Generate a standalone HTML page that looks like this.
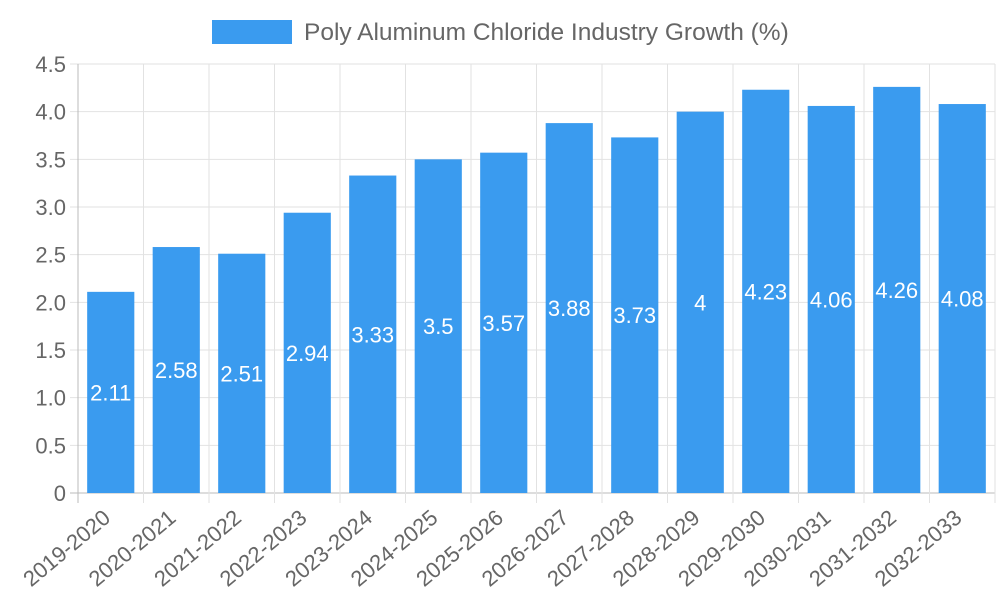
<!DOCTYPE html>
<html><head><meta charset="utf-8"><style>
html,body{margin:0;padding:0;background:#fff;width:1000px;height:600px;overflow:hidden}
text{font-family:"Liberation Sans",Arial,sans-serif}
</style></head><body>
<svg id="chart" width="1000" height="600" viewBox="0 0 1000 600">
<g id="legend">
<rect x="212" y="20" width="80" height="24" fill="#3a9bef"/>
<text x="304" y="40" font-size="24.5" fill="#666">Poly Aluminum Chloride Industry Growth (%)</text>
</g>
<g id="grid"></g><g id="bars"></g><g id="labels"></g>
</svg>
<script>
const categories=["2019-2020","2020-2021","2021-2022","2022-2023","2023-2024","2024-2025","2025-2026","2026-2027","2027-2028","2028-2029","2029-2030","2030-2031","2031-2032","2032-2033"];
const values=[2.11,2.58,2.51,2.94,3.33,3.5,3.57,3.88,3.73,4,4.23,4.06,4.26,4.08];
const yTicks=[0,0.5,1,1.5,2,2.5,3,3.5,4,4.5];
const yTickLabels=["0","0.5","1.0","1.5","2.0","2.5","3.0","3.5","4.0","4.5"];
const NS="http://www.w3.org/2000/svg";
const X0=78,X1=995,Y0=493,Y1=64,YMAX=4.5;
const band=(X1-X0)/categories.length;
function y(v){return Y0-(v/YMAX)*(Y0-Y1);}
function xc(i){return X0+band*(i+0.5);}
function mk(t,a,p){const e=document.createElementNS(NS,t);for(const k in a)e.setAttribute(k,a[k]);p.appendChild(e);return e;}
const grid=document.getElementById('grid'),bars=document.getElementById('bars'),labels=document.getElementById('labels');
yTicks.forEach((v,i)=>{
 const l=mk('line',{x1:X0-8,x2:X1,y1:y(v),y2:y(v),stroke:i===0?'#bbb':'#e2e2e2','stroke-width':1},grid);
 
 
 const t=mk('text',{x:X0-12,y:y(v)+8,'text-anchor':'end','font-size':22,fill:'#666'},grid);
 t.textContent=yTickLabels[i];
 
 
});
for(let i=0;i<=categories.length;i++){
 const gx=X0+band*i;
 const l=mk('line',{x1:gx,x2:gx,y1:Y1,y2:Y0+10,stroke:i===0?'#bbb':'#e2e2e2','stroke-width':1},grid);
 
 
}
categories.forEach((c,i)=>{
 const w=band*0.72;
 const r=mk('rect',{x:xc(i)-w/2,y:y(values[i]),width:w,height:Y0-y(values[i]),fill:'#3a9bef'},bars);
 
 
 const v=mk('text',{x:xc(i),y:(y(values[i])+Y0)/2+8,'text-anchor':'middle','font-size':22,fill:'#fff'},labels);
 v.textContent=String(values[i]);
 
 
 const t=mk('text',{x:xc(i)+1,y:Y0+27,'text-anchor':'end','font-size':22,fill:'#666',transform:`rotate(-40 ${xc(i)+1} ${Y0+27})`},labels);
 t.textContent=c;
 
 
});
</script>
</body></html>
